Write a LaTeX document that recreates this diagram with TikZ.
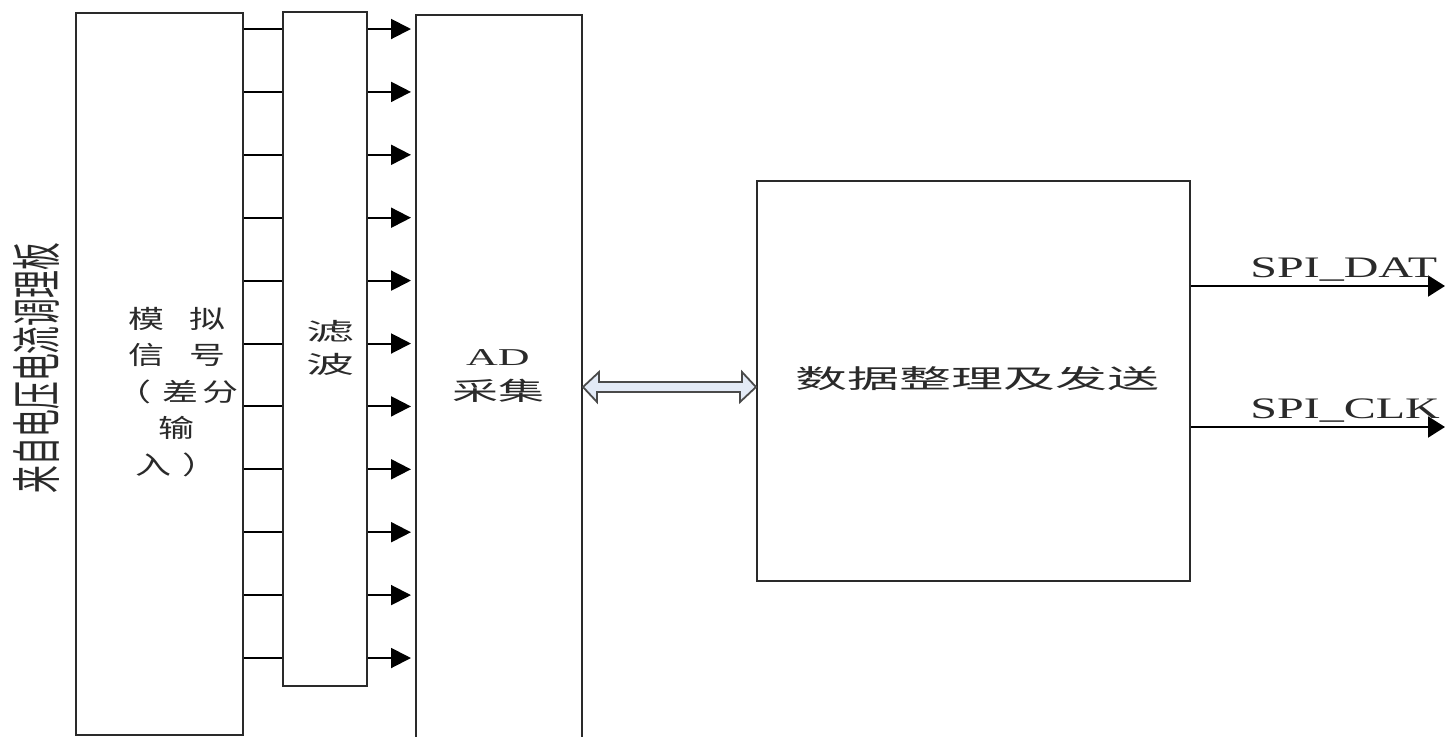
\documentclass[tikz,border=0pt]{standalone}
\usepackage{fontspec}
\setmainfont{Liberation Serif}
\newfontfamily\cjk{Noto Sans CJK SC}
\usetikzlibrary{arrows.meta,fit}
\definecolor{ink}{HTML}{2A2A2A}
\definecolor{arrfill}{HTML}{E3EAF6}

\begin{document}
\begin{tikzpicture}[x=0.5pt, y=-0.5pt, >={Triangle[length=10pt,width=10pt]}]
	\tikzset{
		blk/.style={draw=ink, line width=1pt, inner sep=0pt},
		wire/.style={draw=black, line width=1pt},
		sig/.style={wire, ->, shorten >=2pt},
		spiarr/.style={wire, -{Triangle[length=8.5pt,width=10.5pt]}},
		txt/.style={text=ink, inner sep=0pt}
	}
	\useasboundingbox (0,0) rectangle (1448,736);
	% --- 1. 方框 ---
	\node[blk, fit={(76,13) (243,735)}] (sim) {};
	\node[blk, fit={(283,12) (367,686)}] (lvbo) {};
	\node[blk, fit={(416,15) (582,745)}] (ad) {};
	\node[blk, fit={(757,181) (1190,581)}] (data) {};
	% --- 2. 文字 ---
	\node[txt, rotate=90, xscale=0.556, font=\cjk\fontsize{25}{25}\selectfont] (src) at (36,368) {来自电压电流调理板};
	\node[txt, yscale=0.7, align=center, font=\cjk\fontsize{18}{26}\selectfont] (simtxt) at (177,392)
		{模\hspace{0.7em}拟\\信\hspace{0.7em}号\\（\hspace{0.3em}差\hspace{0.1em}分\\输\\入\hspace{0.3em}）};
	\node[txt, yscale=0.5, align=center, font=\cjk\fontsize{24}{33}\selectfont] (lvbotxt) at (330,348) {滤\\波};
	\node[txt, yscale=0.55, align=center, font=\fontsize{22}{32}\selectfont] (adtxt) at (498,376)
		{AD\\{\cjk\fontsize{23}{32}\selectfont 采集}};
	\node[txt, yscale=0.5, font=\cjk\fontsize{26}{26}\selectfont] (datatxt) at (977,379) {数据整理及发送};
	% --- 3. 信号线 ---
	\foreach \k in {0,...,10} {
		\pgfmathsetmacro\yy{29+62.9*\k}
		\draw[wire] (sim.east |- 0,\yy) -- (lvbo.west |- 0,\yy);
		\draw[sig] (lvbo.east |- 0,\yy) -- (ad.west |- 0,\yy);
	}
	% --- 4. 双向箭头 ---
	\coordinate (bl) at (ad.east |- 0,387);
	\draw[draw=ink!85, fill=arrfill, line width=0.9pt, line join=miter] (bl) -- ++(16,-15) -- ++(0,10) -- ++(143,0) -- ++(0,-10)
		-- (data.west |- bl) -- ++(-16,15) -- ++(0,-10) -- ++(-143,0) -- ++(0,10) -- cycle;
	% --- 5. SPI 输出 ---
	\coordinate (dat) at (1445,286);
	\coordinate (clk) at (1445,427);
	\draw[spiarr] (data.east |- dat) -- (dat);
	\draw[spiarr] (data.east |- clk) -- (clk);
	\node[txt, anchor=base west, yscale=0.62, font=\fontsize{24}{24}\selectfont] (datlbl) at (1250,277) {SPI\_DAT};
	\node[txt, anchor=base west, yscale=0.62, font=\fontsize{24}{24}\selectfont] (clklbl) at (1250,418) {SPI\_CLK};
\end{tikzpicture}
\end{document}
